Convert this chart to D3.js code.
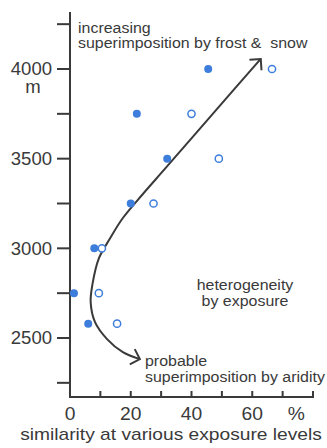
<!DOCTYPE html>
<html>
<head>
<meta charset="utf-8">
<script src="https://cdn.jsdelivr.net/npm/d3@7"></script>
<style>
  html, body { margin: 0; padding: 0; background: #fff; }
  svg { display: block; font-family: "Liberation Sans", Arial, Helvetica, sans-serif; }
</style>
</head>
<body>
<svg id="chart" width="327" height="448"></svg>
<script>
// Altitude levels (m) sampled along the slope
const altitudes = [4000, 3750, 3500, 3250, 3000, 2750, 2580];
// Similarity (%) at the level — filled markers
const similarityFilled = [45.5, 22, 32, 20, 8, 1.3, 6];
// Similarity (%) at the level — open markers
const similarityOpen = [66.5, 40, 49, 27.5, 10.5, 9.5, 15.5];

// Trend arrow traced through the cloud, [similarity %, altitude m]
const trendX = [23.0, 17.4, 12.2, 8.2, 6.8, 7.4, 9.5, 13.2, 17.4, 24.0, 31.3, 47.0, 62.8];
const trendY = [2382, 2421, 2494, 2590, 2700, 2800, 2944, 3056, 3169, 3303, 3444, 3750, 4056];

const yTicks = [2250, 2500, 2750, 3000, 3250, 3500, 3750, 4000, 4250];
const yTickLabels = [2500, 3000, 3500, 4000];
const xTicks = [0, 10, 20, 30, 40, 50, 60, 70, 80];
const xTickLabels = [0, 20, 40, 60];

const ink = "#3a3a3a";
const blue = "#3d7ddc";

const svg = d3.select("#chart");

const x = d3.scaleLinear().domain([0, 80]).range([70, 313]);
const y = d3.scaleLinear().domain([2500, 4000]).range([338, 69]);

const axisY = 397;

// Text set in a slightly wide face: glyphs are stretched horizontally
function label(parent, str, px, py, size, sx, anchor) {
  return parent.append("text")
    .attr("transform", `translate(${px},${py}) scale(${sx},1)`)
    .attr("text-anchor", anchor)
    .attr("font-size", size)
    .attr("fill", ink)
    .text(str);
}

// Vertical axis
svg.append("line")
  .attr("x1", x(0)).attr("x2", x(0))
  .attr("y1", 12).attr("y2", axisY)
  .attr("stroke", ink).attr("stroke-width", 2);

svg.append("g").selectAll("line").data(yTicks).join("line")
  .attr("x1", x(0) - 13).attr("x2", x(0))
  .attr("y1", d => y(d)).attr("y2", d => y(d))
  .attr("stroke", ink).attr("stroke-width", 2);

const yLab = svg.append("g");
yTickLabels.forEach(d => {
  label(yLab, d, 52, y(d) + 6.3, 17.5, 1.06, "end");
});
label(svg, "m", 33, 93, 17.5, 1.06, "middle");

// Horizontal axis
svg.append("line")
  .attr("x1", x(0) - 1).attr("x2", x(80) + 1)
  .attr("y1", axisY).attr("y2", axisY)
  .attr("stroke", ink).attr("stroke-width", 2);

svg.append("g").selectAll("line").data(xTicks).join("line")
  .attr("x1", d => x(d)).attr("x2", d => x(d))
  .attr("y1", axisY).attr("y2", axisY - 6)
  .attr("stroke", ink).attr("stroke-width", 2);

const xLab = svg.append("g");
xTickLabels.forEach(d => {
  label(xLab, d, x(d), 420, 17.5, 1.1, "middle");
});
label(svg, "%", x(74.5), 420, 17.5, 1.1, "middle");

label(svg, "similarity at various exposure levels", 171, 440, 16, 1.2, "middle");

// Arrowhead
const defs = svg.append("defs");
defs.append("marker")
  .attr("id", "chev")
  .attr("markerUnits", "userSpaceOnUse")
  .attr("viewBox", "-10 -10 12 20")
  .attr("refX", 0).attr("refY", 0)
  .attr("markerWidth", 12).attr("markerHeight", 20)
  .attr("orient", "auto-start-reverse")
  .append("path")
  .attr("d", "M-8,-8 L0,0 L-8,8")
  .attr("fill", "none")
  .attr("stroke", ink)
  .attr("stroke-width", 2)
  .attr("stroke-linejoin", "miter");

const trend = trendX.map((v, i) => [v, trendY[i]]);
svg.append("path")
  .datum(trend)
  .attr("d", d3.line().x(d => x(d[0])).y(d => y(d[1])).curve(d3.curveCatmullRom.alpha(0.5)))
  .attr("fill", "none")
  .attr("stroke", ink)
  .attr("stroke-width", 2)
  .attr("marker-start", "url(#chev)")
  .attr("marker-end", "url(#chev)");

// Markers
svg.append("g").selectAll("circle").data(altitudes).join("circle")
  .attr("cx", (d, i) => x(similarityFilled[i]))
  .attr("cy", d => y(d))
  .attr("r", 4)
  .attr("fill", blue);

svg.append("g").selectAll("circle").data(altitudes).join("circle")
  .attr("cx", (d, i) => x(similarityOpen[i]))
  .attr("cy", d => y(d))
  .attr("r", 3.6)
  .attr("fill", "#fff")
  .attr("stroke", blue)
  .attr("stroke-width", 1.5);

// Annotations
const note = (lines, x0, y0, lh, anchor) => {
  lines.forEach((s, i) => label(svg, s, x0, y0 + i * lh, 14.5, 1.1, anchor));
};
note(["increasing", "superimposition by frost &\u00a0 snow"], 78, 33, 15, "start");
note(["heterogeneity", "by exposure"], 245, 290, 16, "middle");
note(["probable", "superimposition by aridity"], 145, 366, 16, "start");
</script>
</body>
</html>
